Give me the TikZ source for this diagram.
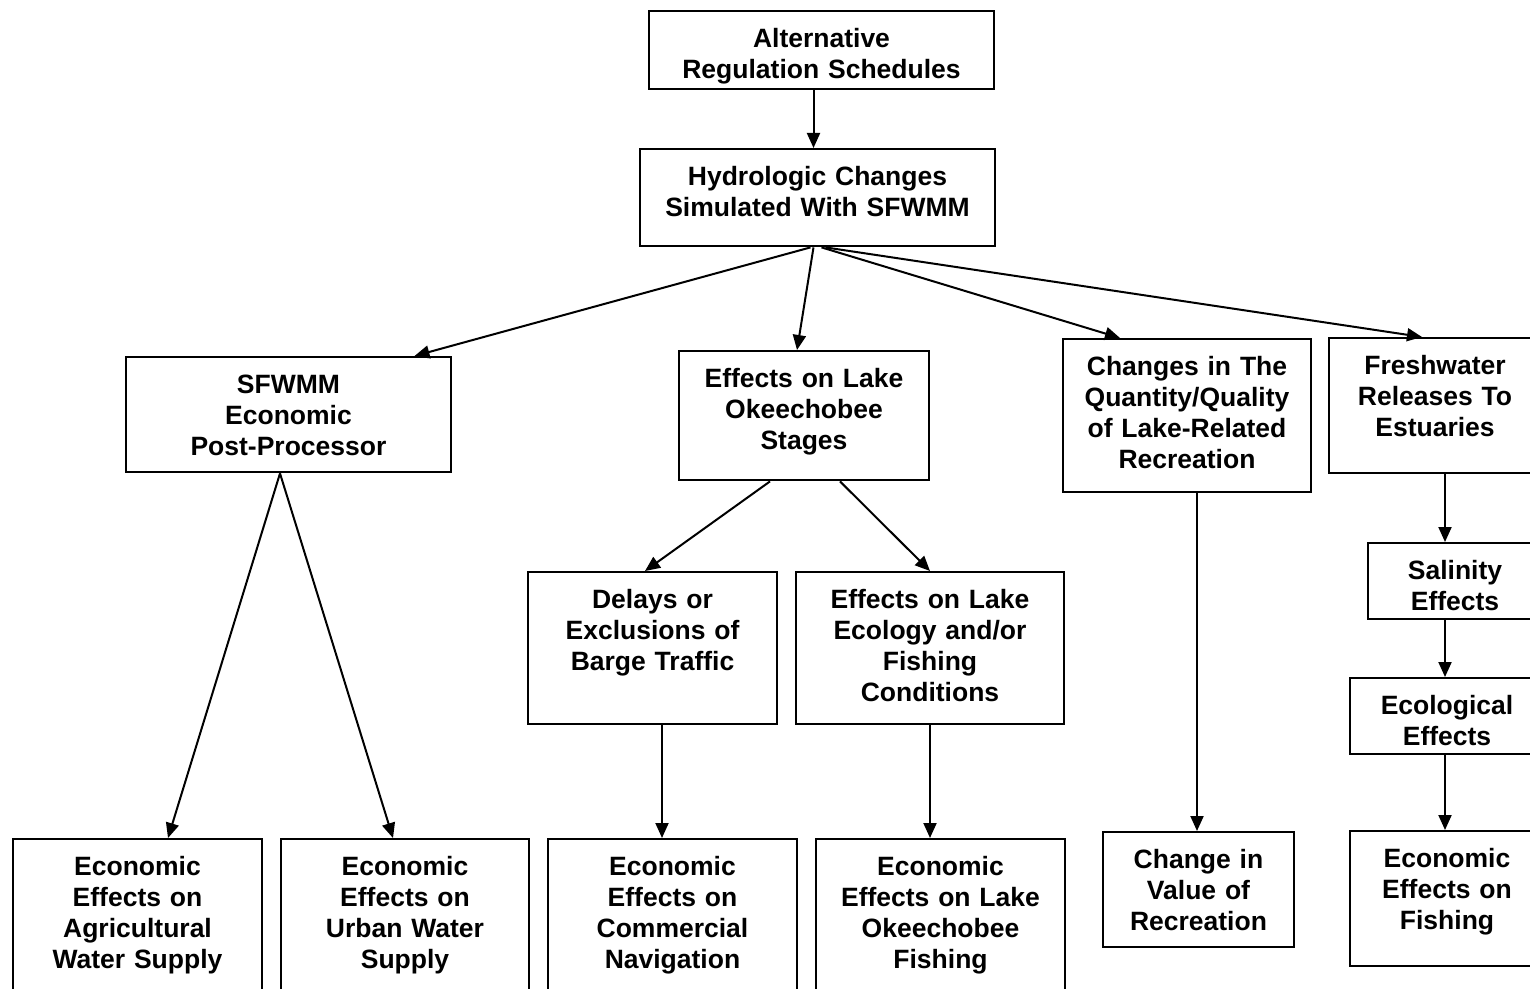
\documentclass[tikz,border=0pt]{standalone}
\usepackage{fontspec}
\setmainfont{Liberation Sans}
\usetikzlibrary{arrows.meta}

\begin{document}
\begin{tikzpicture}[x=0.5pt, y=-0.5pt,
		box/.style={draw, line width=1.2pt, anchor=north, align=center, inner sep=0pt, text height=18pt, font=\fontsize{13.25}{15.5}\selectfont\bfseries},
		arr/.style={line width=1pt, -{Triangle[length=7.5pt, width=6.5pt]}}]
		\useasboundingbox (0,0) rectangle (1530,989);
		
		\node[box, text width=172.5pt, text depth=21pt] (alt) at (821.5,10) {Alternative\\Regulation Schedules};
		\node[box, text width=177.5pt, text depth=30.5pt] (hydro) at (817.5,148) {Hydrologic Changes\\Simulated With SFWMM};
		
		\node[box, text width=162.5pt, text depth=39.5pt] (post) at (288.5,356) {SFWMM\\Economic\\Post-Processor};
		\node[box, text width=125pt, text depth=46.5pt] (stages) at (804,350) {Effects on Lake\\Okeechobee\\Stages};
		\node[box, text width=124pt, text depth=58.5pt] (recr) at (1187,338) {Changes in The\\Quantity/Quality\\of Lake-Related\\Recreation};
		\node[box, text width=106pt, text depth=49.5pt] (fresh) at (1435,337) {Freshwater\\Releases To\\Estuaries};
		
		\node[box, text width=124.5pt, text depth=58pt] (barge) at (652.5,571) {Delays or\\Exclusions of\\Barge Traffic};
		\node[box, text width=134pt, text depth=58pt] (ecol) at (930,571) {Effects on Lake\\Ecology and/or\\Fishing\\Conditions};
		\node[box, text width=87pt, text depth=20pt] (salin) at (1455,542) {Salinity\\Effects};
		\node[box, text width=97pt, text depth=20pt] (ecoeff) at (1447,677) {Ecological\\Effects};
		
		\node[box, text width=124.5pt, text depth=67pt] (agri) at (137.5,838) {Economic\\Effects on\\Agricultural\\Water Supply};
		\node[box, text width=124pt, text depth=67pt] (urban) at (405,838) {Economic\\Effects on\\Urban Water\\Supply};
		\node[box, text width=124.5pt, text depth=67pt] (nav) at (672.5,838) {Economic\\Effects on\\Commercial\\Navigation};
		\node[box, text width=124.5pt, text depth=67pt] (okfish) at (940.5,838) {Economic\\Effects on Lake\\Okeechobee\\Fishing};
		\node[box, text width=95.5pt, text depth=39.5pt] (value) at (1198.5,831) {Change in\\Value of\\Recreation};
		\node[box, text width=97pt, text depth=49.5pt] (fish) at (1447,830) {Economic\\Effects on\\Fishing};
		
		\path[arr]
		([xshift=-4pt]alt.south) edge ([xshift=-4pt]alt.south |- hydro.north)
		([xshift=-3.5pt]hydro.south) edge ([xshift=63pt]post.north)
		([xshift=-2pt]hydro.south) edge ([xshift=-3.5pt]stages.north)
		([xshift=2pt]hydro.south) edge ([xshift=-33.5pt]recr.north)
		([xshift=4pt]hydro.south) edge ([xshift=-6.5pt]fresh.north)
		([xshift=-4.25pt]post.south) edge ([xshift=15.25pt]agri.north)
		([xshift=-4.25pt]post.south) edge ([xshift=-6pt]urban.north)
		([xshift=-17pt]stages.south) edge ([xshift=-3.75pt]barge.north)
		([xshift=18pt]stages.south) edge (ecol.north)
		([xshift=4.75pt]barge.south) edge ([xshift=4.75pt]barge.south |- nav.north)
		(ecol.south) edge (ecol.south |- okfish.north)
		([xshift=5pt]recr.south) edge ([xshift=5pt]recr.south |- value.north)
		([xshift=5pt]fresh.south) edge ([xshift=5pt]fresh.south |- salin.north)
		([xshift=-5pt]salin.south) edge ([xshift=-5pt]salin.south |- ecoeff.north)
		([xshift=-1pt]ecoeff.south) edge ([xshift=-1pt]ecoeff.south |- fish.north);
	\end{tikzpicture}
\end{document}
